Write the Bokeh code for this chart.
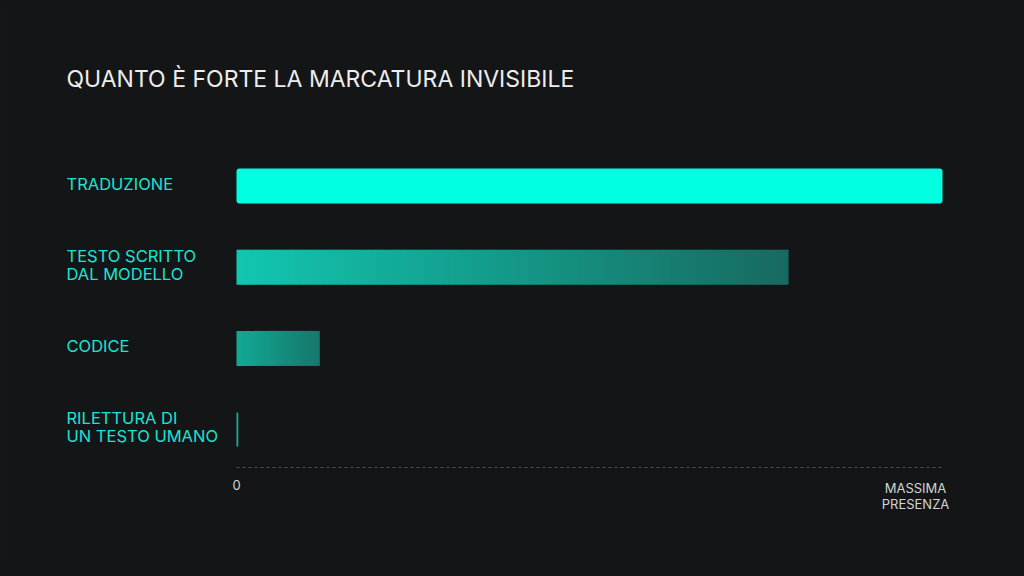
from bokeh.plotting import figure
from bokeh.models import Range1d, ColumnDataSource
from bokeh.core.properties import value
from bokeh.embed import file_html
from bokeh.resources import INLINE

# ---- data ----
title_text = "QUANTO È FORTE LA MARCATURA INVISIBILE"
categories = ["TRADUZIONE", "TESTO SCRITTO\nDAL MODELLO", "CODICE", "RILETTURA DI\nUN TESTO UMANO"]
values = [1.0, 0.782, 0.118, 0.0025]
x_tick_values = [0.0, 1.0]
x_tick_labels = ["0", "MASSIMA\nPRESENZA"]

# ---- styles ----
bg = "#141516"
grad_start = ["#00FFE1", "#12C6B0", "#12A995", "#12B09C"]
grad_end = ["#00FFE1", "#176A60", "#16776C", "#12B09C"]
label_color = "#1DE3D3"
tick_color = "#D2D4D6"
FONT = "Inter"

W, H = 1008, 560
x0_px, x1_px = 236, 942           # pixel positions of 0 and 1
y0_px, dy_px = 185.5, 81.2        # first category centre and spacing
ppu = x1_px - x0_px

p = figure(width=W, height=H, output_backend="svg", toolbar_location=None,
           x_range=Range1d(-x0_px / ppu, (W - x0_px) / ppu),
           y_range=Range1d((H - y0_px) / dy_px, -y0_px / dy_px),
           min_border=0, background_fill_color=bg, border_fill_color=bg)
p.axis.visible = False
p.grid.visible = False
p.outline_line_color = None

def hex2rgb(h):
    h = h.lstrip("#")
    return tuple(int(h[i:i + 2], 16) for i in (0, 2, 4))

def mix(a, b, t):
    ra, rb = hex2rgb(a), hex2rgb(b)
    return "#%02x%02x%02x" % tuple(round(ra[k] + (rb[k] - ra[k]) * t) for k in range(3))

bar_h = 35 / dy_px
ys = list(range(len(categories)))

# bars with horizontal gradient built from slices
for i, v in enumerate(values):
    if grad_start[i] == grad_end[i]:
        p.hbar(y=[ys[i]], left=[0], right=[v], height=bar_h if i < 3 else 34 / dy_px,
               fill_color=grad_start[i], line_color=None, border_radius=3 if i < 3 else 0)
        continue
    n = max(4, int(v * ppu / 3))
    lefts = [v * k / n for k in range(n)]
    rights = [min(v, v * (k + 1) / n + 1.0 / ppu) for k in range(n)]
    cols = [mix(grad_start[i], grad_end[i], (k + 0.5) / n) for k in range(n)]
    src = ColumnDataSource(dict(y=[ys[i]] * n, left=lefts, right=rights, color=cols))
    p.hbar(y="y", left="left", right="right", height=bar_h, fill_color="color",
           line_color=None, source=src)

# category labels
lab_x = (66 - x0_px) / ppu
p.text(x=[lab_x] * len(categories), y=[y - 2.5 / dy_px for y in ys], text=categories,
       text_font=value(FONT), text_font_size="16.5px", text_color=label_color,
       text_align="left", text_baseline="middle", text_line_height=0.89)

# dashed baseline
base_y = (467 - y0_px) / dy_px
p.line(x=[x_tick_values[0], x_tick_values[-1]], y=[base_y, base_y], line_color="#4E5052",
       line_width=1, line_dash="3 3")

# tick labels
tick_y = (479 - y0_px) / dy_px
p.text(x=[x_tick_values[0]], y=[tick_y], text=[x_tick_labels[0]], text_font=value(FONT),
       text_font_size="13px", text_color=tick_color, text_align="center", text_baseline="top")
p.text(x=[x_tick_values[1] - 27 / ppu], y=[tick_y], text=[x_tick_labels[1]], text_font=value(FONT),
       text_font_size="13px", text_color=tick_color, text_align="center", text_baseline="top",
       text_line_height=1.06)

# title
p.text(x=[lab_x], y=[(78 - y0_px) / dy_px], text=[title_text], text_font=value(FONT),
       text_font_size="23px", text_color="#ECEDEE", text_align="left", text_baseline="middle")

html = file_html(p, INLINE)
html = html.replace("<body>", '<body style="background:#141516">')
open("out.html", "w").write(html)
